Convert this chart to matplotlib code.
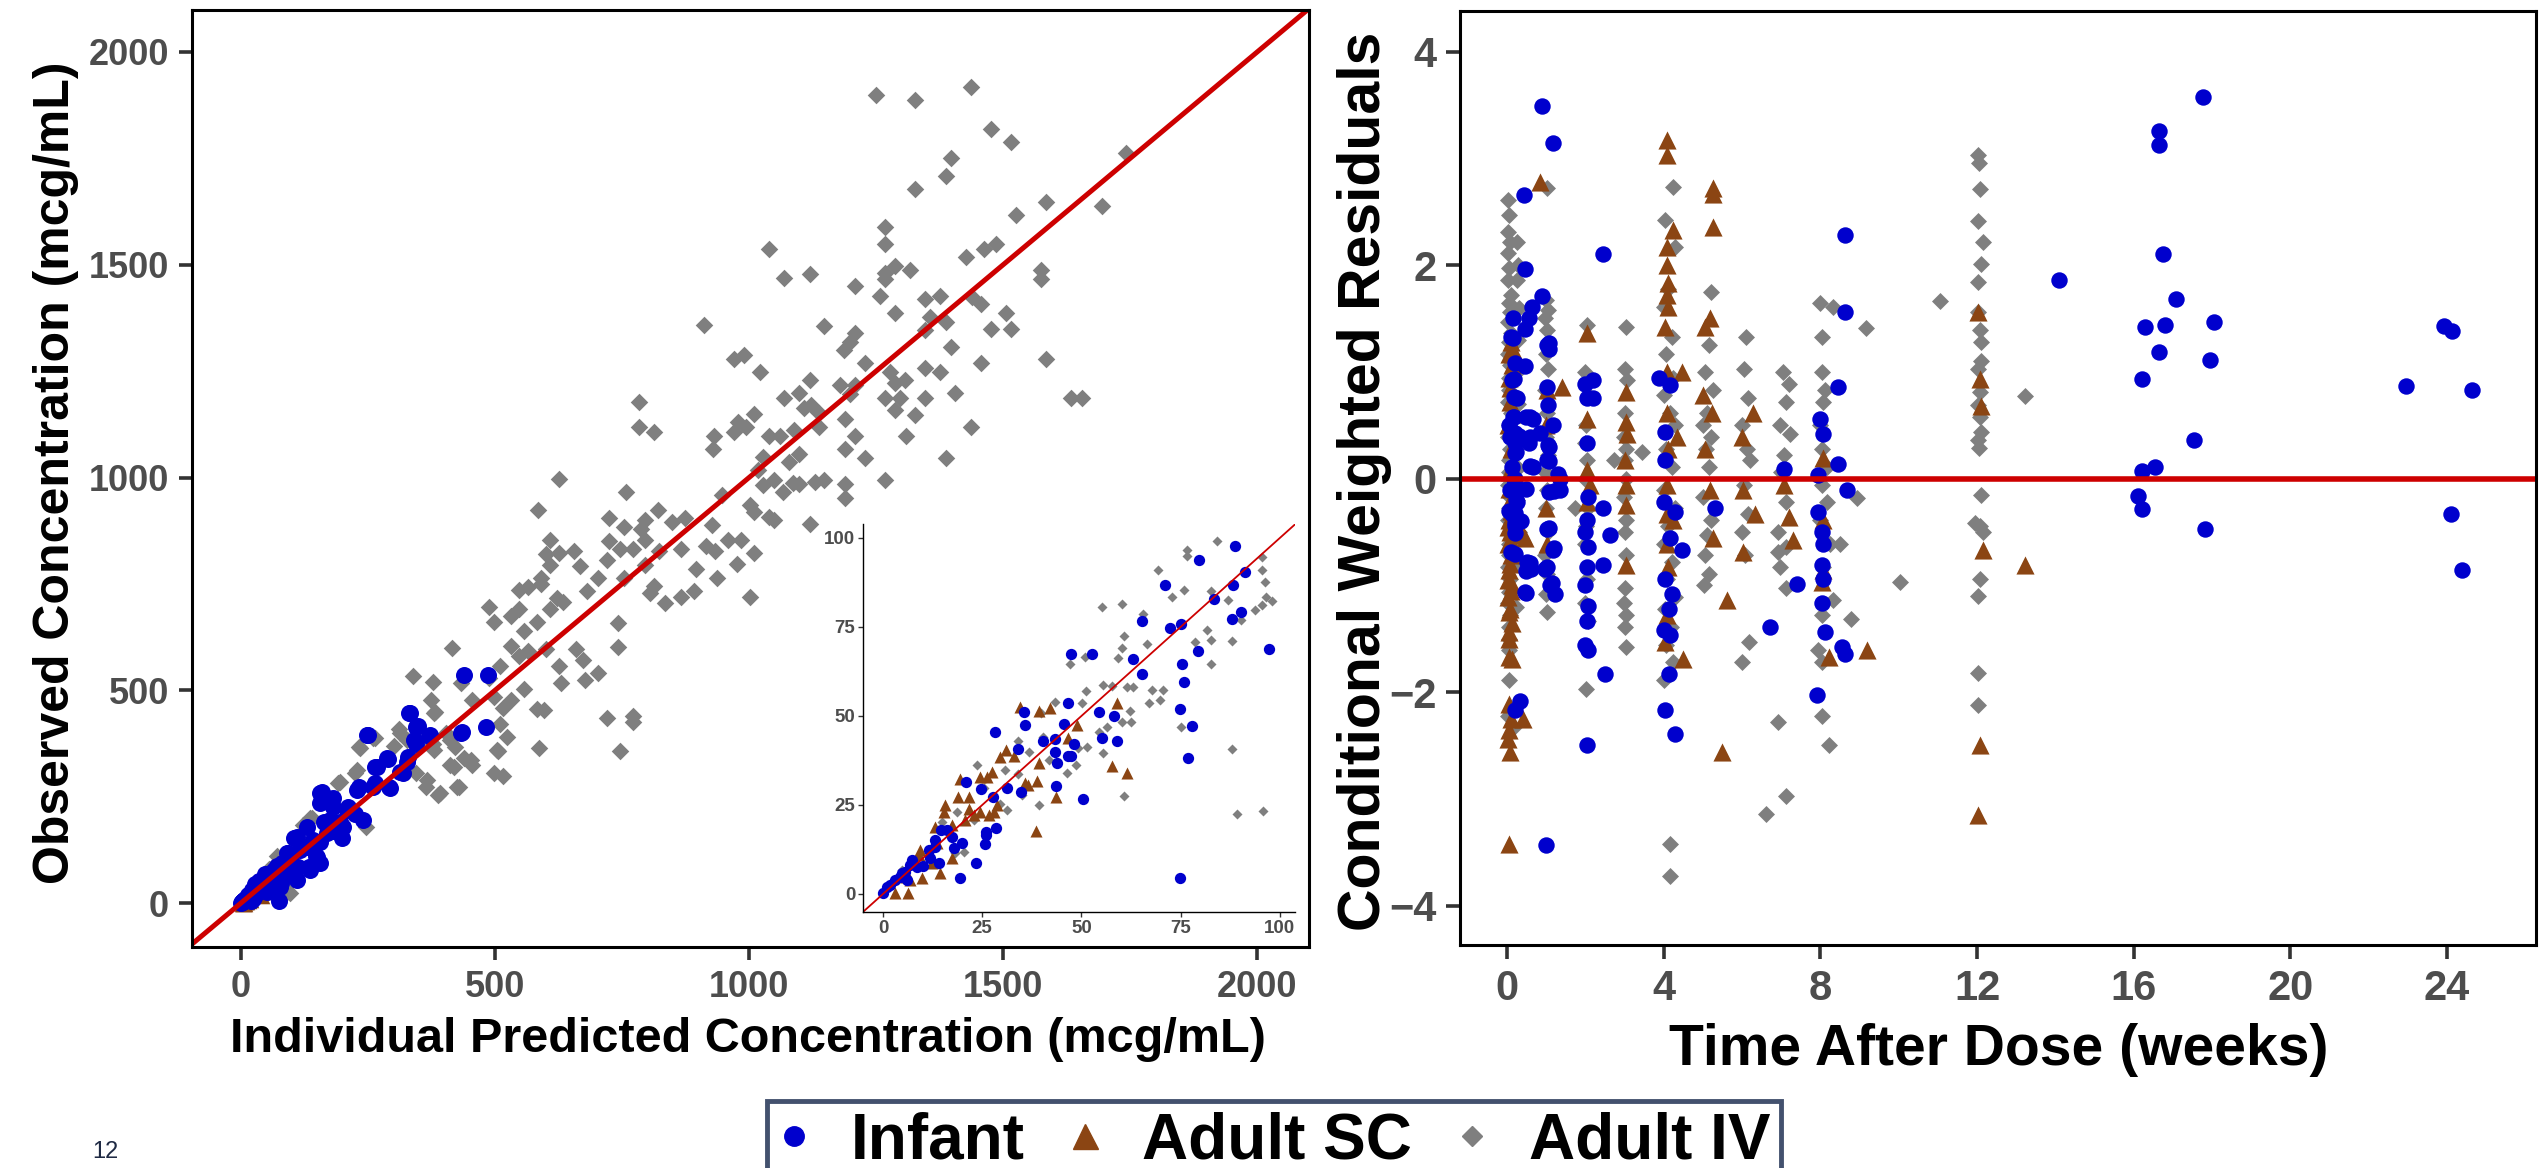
import numpy as np
import matplotlib
matplotlib.use("Agg")
import matplotlib.pyplot as plt
from matplotlib.lines import Line2D

plt.rcParams['font.family'] = ['Liberation Sans', 'DejaVu Sans']

BLUE = '#0000CD'
BROWN = '#8B4513'
GREY = '#7F7F7F'
RED = '#CD0000'
TICKCOL = '#4D4D4D'

# ---------------- observed vs individual predicted (mcg/mL) ----------------
# Adult IV (pred, obs)
iv_pred_obs = [
    (1249, 1899), (1327, 1887), (1436, 1918), (1476, 1818), (1515, 1789), (1397, 1750),
    (1387, 1709), (1327, 1678), (1741, 1762), (1585, 1648), (1694, 1639), (1525, 1618),
    (1268, 1588), (1268, 1549), (1040, 1537), (1427, 1519), (1462, 1538), (1485, 1549),
    (1288, 1498), (1317, 1488), (1268, 1480), (1268, 1466), (1119, 1478), (1068, 1468),
    (1208, 1449), (1575, 1488), (1575, 1466), (1257, 1427), (1346, 1419), (1376, 1427),
    (1438, 1425), (1456, 1408), (1287, 1387), (1505, 1387), (911, 1358), (1148, 1357),
    (1357, 1378), (1387, 1366), (1346, 1346), (1476, 1348), (1515, 1348), (1208, 1339),
    (1198, 1319), (1187, 1300), (1397, 1307), (970, 1278), (990, 1287), (1021, 1247),
    (1228, 1269), (1585, 1278), (1456, 1269), (1277, 1248), (1346, 1257), (1376, 1247),
    (1119, 1228), (1179, 1218), (1208, 1218), (1099, 1199), (1068, 1188), (1198, 1196),
    (1288, 1221), (1306, 1228), (1268, 1188), (1298, 1188), (1346, 1188), (1406, 1198),
    (1634, 1188), (1655, 1188), (1109, 1163), (1122, 1170), (1138, 1151), (1287, 1159),
    (1327, 1147), (1009, 1149), (978, 1131), (994, 1119), (970, 1107), (812, 1107),
    (931, 1097), (929, 1068), (1040, 1097), (1060, 1097), (1089, 1111), (1138, 1118),
    (1189, 1137), (1208, 1097), (1308, 1097), (1436, 1118), (1189, 1068), (1228, 1047),
    (1387, 1047), (1099, 1055), (1079, 1037), (1027, 1049), (1017, 1018), (1268, 994),
    (1028, 982), (1049, 994), (1067, 966), (1087, 986), (1099, 985), (1129, 990),
    (1148, 995), (1189, 985), (1189, 951), (947, 959), (1001, 935), (1009, 919),
    (820, 923), (848, 896), (873, 904), (927, 888), (1040, 906), (1050, 900), (1119, 891),
    (784, 1178), (784, 1118), (626, 997), (585, 924), (758, 966), (1001, 718), (895, 785),
    (891, 734), (865, 718), (835, 706), (805, 729), (937, 763), (916, 840), (933, 828),
    (959, 852), (976, 797), (984, 852), (1010, 823), (796, 852), (822, 828), (796, 794),
    (813, 746), (865, 832), (724, 905), (754, 884), (788, 880), (796, 901), (724, 850),
    (745, 832), (771, 832), (754, 763), (741, 657), (741, 601), (703, 763), (720, 806),
    (681, 734), (668, 791), (655, 828), (608, 852), (600, 820), (608, 794), (625, 823),
    (591, 763), (591, 750), (548, 736), (565, 742), (621, 717), (633, 708), (608, 691),
    (583, 661), (557, 640), (548, 691), (531, 674), (489, 695), (498, 661), (565, 593),
    (531, 605), (548, 580), (600, 597), (625, 558), (629, 516), (677, 524), (703, 541),
    (660, 597), (673, 572), (510, 558), (557, 503), (531, 477), (583, 456), (596, 453),
    (720, 435), (771, 439), (771, 426), (745, 358), (587, 365), (416, 599), (339, 533),
    (378, 520), (374, 477), (382, 450), (433, 516), (455, 477), (489, 528), (498, 485),
    (515, 459), (510, 420), (523, 389), (506, 358), (515, 298), (455, 324), (438, 341),
    (421, 366), (412, 324), (429, 272), (387, 255), (365, 272), (344, 306), (378, 374),
    (404, 400), (327, 383), (310, 409), (301, 370), (263, 387), (233, 366), (224, 306),
    (245, 178), (190, 281), (139, 200), (122, 183), (71, 110),
    (234, 364), (228, 313), (195, 285), (136, 199), (260, 387), (313, 399), (379, 446),
    (366, 289), (392, 258), (425, 273), (379, 360), (419, 320), (452, 336), (412, 383),
    (503, 360), (497, 305),
    (84.2, 99.2), (76.5, 96.7), (76.5, 94.9), (95.4, 94.7), (95.4, 90.9), (96.2, 87.7),
    (69.4, 90.9), (75.9, 85.5), (72.7, 83.3), (82.6, 85.1), (87.0, 82.5), (97.9, 82.2),
    (96.6, 83.4), (93.7, 79.7), (95.4, 81.1), (90.1, 76.9), (55.1, 80.6), (60.2, 81.3),
    (65.4, 78.6), (60.7, 72.4), (60.2, 69.2), (59.1, 66.4), (66.4, 70.3), (78.6, 70.8),
    (82.6, 71.3), (81.5, 74.1), (82.6, 64.5), (88.0, 71.1), (47.0, 64.5), (50.8, 66.6),
    (51.1, 57.1), (55.5, 58.7), (57.6, 58.4), (61.4, 58.2), (63.1, 58.2), (67.7, 57.3),
    (70.6, 57.3), (69.8, 54.4), (66.9, 53.5), (62.2, 51.4), (62.4, 48.4), (60.2, 48.2),
    (56.5, 47.0), (54.3, 45.6), (50.1, 53.5), (43.4, 54.0), (39.8, 50.7), (40.4, 44.2),
    (41.7, 37.6), (39.2, 25.0), (36.7, 39.9), (34.1, 43.0), (51.3, 41.3), (49.1, 41.1),
    (48.7, 36.2), (46.3, 34.1), (55.4, 39.7), (60.6, 27.6), (75.1, 46.8), (89.1, 22.5),
    (95.8, 23.4), (88.0, 40.6), (23.8, 36.2), (25.5, 29.7), (30.8, 34.8), (34.1, 33.7),
    (29.5, 25.4), (31.2, 23.6), (35.0, 27.8), (22.8, 20.8), (18.6, 23.1), (14.8, 20.3),
    (18.2, 11.4), (20.3, 11.9), (4.8, 6.7), (7.7, 8.6),
]

# Adult SC (pred, obs)
sc_pred_obs = [
    (34.4, 52.4), (39.2, 51.4), (42.1, 52.1), (58.9, 53.7), (48.8, 47.4), (46.7, 43.7),
    (57.6, 35.9), (61.4, 33.9), (43.6, 27.3), (38.6, 17.7), (39.2, 36.7), (36.6, 30.6),
    (35.8, 31.2), (38.8, 31.8), (32.9, 38.7), (31.0, 40.4), (29.4, 38.5), (27.4, 34.3),
    (26.2, 32.9), (24.5, 32.9), (19.5, 32.2), (21.6, 27.3), (19.0, 27.3), (15.7, 25.0),
    (15.3, 23.1), (21.6, 24.0), (22.8, 22.2), (20.7, 20.8), (24.5, 23.1), (26.6, 22.2),
    (27.9, 23.1), (28.7, 25.0), (13.2, 18.9), (17.4, 19.4), (13.6, 14.2), (12.3, 8.6),
    (17.4, 10.0), (14.3, 6.0), (9.4, 12.3), (9.0, 10.9), (9.8, 4.4), (6.9, 3.9),
    (6.2, 0.4), (3.1, 0.4), (5.9, 4.9),
]

# Infant (pred, obs)
inf_pred_obs = [
    (439, 537), (487, 537), (333, 447), (344, 413), (250, 395), (289, 338), (267, 319),
    (433, 400), (482, 413), (369, 393), (344, 374), (327, 331), (318, 306), (292, 272),
    (263, 281), (233, 272), (156, 259), (156, 234), (181, 247), (211, 226), (241, 196),
    (224, 209), (194, 191), (164, 191), (181, 170), (198, 152), (156, 144), (109, 152),
    (130, 131), (147, 110), (156, 93), (113, 84), (134, 84), (92, 118), (130, 178),
    (105, 152),
    (331, 446), (349, 416), (247, 395), (434, 403), (341, 383), (372, 395), (287, 340),
    (264, 320), (313, 309), (293, 270), (329, 344), (159, 262), (182, 226), (228, 266),
    (260, 273), (208, 219), (201, 179), (175, 195), (169, 164), (142, 148), (110, 156),
    (116, 125), (149, 109), (136, 78), (96, 109), (110, 54), (90, 117),
    (88.7, 97.8), (79.7, 93.7), (91.2, 90.5), (71.1, 86.7), (88.3, 86.7), (83.5, 82.7),
    (90.1, 79.2), (87.8, 77.2), (65.2, 76.6), (72.3, 74.8), (75.1, 75.8), (97.2, 68.9),
    (47.4, 67.5), (52.6, 67.3), (79.3, 68.2), (62.9, 66.1), (65.3, 61.9), (75.4, 64.5),
    (75.9, 59.4), (46.7, 53.7), (54.5, 51.0), (58.3, 50.0), (74.7, 51.9), (35.4, 51.0),
    (35.7, 47.4), (45.5, 47.6), (77.8, 47.1), (28.3, 45.6), (40.4, 42.9), (43.4, 43.4),
    (55.1, 43.7), (58.9, 43.0), (48.2, 42.0), (34.0, 40.6), (43.4, 39.8), (46.7, 38.8),
    (47.4, 38.8), (76.9, 38.1), (43.8, 36.7), (43.6, 30.4), (50.5, 26.7), (20.9, 31.5),
    (24.7, 29.5), (31.2, 29.9), (34.8, 28.7), (27.6, 27.3), (28.4, 18.6), (25.9, 17.5),
    (25.9, 16.6), (25.6, 13.9), (23.4, 8.6), (74.8, 4.4), (19.3, 4.6), (19.9, 14.2),
    (17.8, 13.0), (17.4, 16.1), (16.1, 18.1), (14.6, 18.0), (13.0, 15.2), (13.0, 13.3),
    (11.5, 12.3), (11.9, 10.0), (14.0, 8.6), (10.2, 7.9), (8.6, 7.7), (7.3, 9.5),
    (6.9, 8.1), (5.6, 6.3), (4.4, 4.9), (3.1, 3.9), (1.8, 2.5), (1.0, 2.1), (0.0, 0.2),
    (6.0, 3.9), (4.8, 5.8),
]

# ---------------- CWRES vs time after dose (weeks) ----------------
iv_time_res = [
    (0.02, 2.61), (0.05, 2.47), (0.03, 2.31), (0.08, 2.22), (0.02, 2.11), (0.06, 1.97),
    (0.03, 1.86), (0.10, 1.72), (0.04, 1.64), (0.07, 1.56), (0.02, 1.47), (0.09, 1.36),
    (0.05, 1.28), (0.03, 1.17), (0.08, 1.06), (0.04, 0.94), (0.06, 0.83), (0.02, 0.72),
    (0.09, 0.61), (0.05, 0.50), (0.03, 0.39), (0.07, 0.28), (0.04, 0.17), (0.06, 0.06),
    (0.02, -0.06), (0.08, -0.17), (0.05, -0.28), (0.03, -0.39), (0.07, -0.50), (0.04, -0.61),
    (0.06, -0.72), (0.02, -0.83), (0.08, -0.94), (0.05, -1.06), (0.03, -1.17), (0.07, -1.28),
    (0.04, -1.39), (0.06, -1.50), (0.05, -1.61), (0.04, -1.89), (0.03, -2.22),
    (0.26, 2.22), (0.28, 2.00), (0.25, 1.86), (0.30, 1.60), (0.27, 1.30), (0.25, 1.00),
    (0.29, 0.70), (0.26, 0.40), (0.28, 0.10), (0.25, -0.20), (0.30, -0.50), (0.27, -0.80),
    (0.22, -1.20), (0.18, -2.33),
    (1.02, 2.72), (1.00, 1.67), (1.05, 1.58), (0.98, 1.50), (1.02, 1.39), (1.00, 1.17),
    (1.04, 1.03), (0.98, 0.83), (1.02, 0.61), (1.00, 0.39), (1.05, 0.22), (0.97, 0.06),
    (1.02, -0.11), (1.00, -0.28), (1.04, -0.50), (0.98, -0.72), (1.02, -0.89), (1.00, -1.08),
    (1.02, -1.25),
    (2.04, 1.44), (2.00, 1.00), (2.06, 0.78), (2.02, 0.50), (1.98, 0.33), (2.04, 0.17),
    (2.00, 0.00), (2.06, -0.28), (2.02, -0.44), (1.98, -0.61), (2.04, -0.94), (2.00, -1.17),
    (2.06, -1.33), (2.02, -1.97), (1.74, -0.28), (2.73, 0.17),
    (3.03, 1.42), (3.00, 1.03), (3.06, 0.92), (3.02, 0.61), (2.98, 0.39), (3.05, 0.28),
    (3.00, 0.17), (3.04, 0.00), (2.99, -0.17), (3.03, -0.39), (3.00, -0.50), (3.05, -0.72),
    (3.02, -1.03), (2.98, -1.17), (3.04, -1.28), (3.00, -1.39), (3.03, -1.58), (3.45, 0.25),
    (4.24, 2.73), (4.04, 2.42), (4.30, 2.17), (4.10, 1.78), (4.02, 1.61), (4.20, 1.33),
    (4.06, 1.17), (4.25, 0.94), (4.00, 0.78), (4.15, 0.61), (4.30, 0.50), (4.05, 0.28),
    (4.20, 0.11), (4.02, -0.11), (4.28, -0.28), (4.10, -0.44), (4.00, -0.61), (4.22, -0.78),
    (4.08, -0.94), (4.30, -1.11), (4.04, -1.22), (4.18, -1.39), (4.06, -1.56), (4.24, -1.72),
    (4.02, -1.89), (4.16, -3.42), (4.16, -3.72),
    (5.20, 1.75), (5.15, 1.25), (5.05, 1.00), (5.25, 0.83), (5.10, 0.61), (5.00, 0.50),
    (5.22, 0.39), (5.08, 0.28), (5.15, 0.11), (5.00, -0.17), (5.20, -0.39), (5.10, -0.53),
    (5.05, -0.72), (5.15, -0.89), (5.02, -1.00),
    (6.10, 1.33), (6.05, 1.03), (6.15, 0.75), (6.00, 0.50), (6.12, 0.28), (6.20, 0.17),
    (6.05, -0.06), (6.15, -0.33), (6.00, -0.50), (6.08, -0.72), (6.17, -1.53), (6.00, -1.72),
    (6.62, -3.14), (7.13, -2.97), (6.91, -2.28),
    (7.04, 1.00), (7.21, 0.89), (7.13, 0.72), (6.96, 0.50), (7.23, 0.42), (7.06, 0.22),
    (7.00, 0.06), (7.13, -0.22), (6.91, -0.50), (7.13, -0.64), (6.96, -0.83), (7.13, -1.03),
    (6.91, -0.69),
    (7.99, 1.64), (8.04, 1.33), (8.04, 1.00), (8.12, 0.83), (8.08, 0.72), (7.99, 0.50),
    (8.04, 0.28), (8.16, 0.11), (8.04, -0.06), (8.16, -0.22), (7.99, -0.39), (8.25, -0.61),
    (8.08, -0.83), (8.33, -1.14), (8.04, -1.28), (7.95, -1.61), (8.04, -1.72), (8.04, -2.22),
    (8.21, -2.50), (8.33, 1.61), (8.50, -0.61),
    (9.16, 1.41), (8.93, -0.18), (8.79, -1.32), (10.04, -0.97), (11.06, 1.66),
    (12.03, 3.03), (12.05, 2.96), (12.07, 2.71), (12.03, 2.41), (12.15, 2.22), (12.10, 2.01),
    (12.03, 1.84), (12.03, 1.56), (12.07, 1.39), (12.10, 1.28), (12.10, 1.10), (12.03, 1.03),
    (12.07, 0.81), (12.03, 0.69), (12.07, 0.58), (12.10, 0.44), (12.03, 0.36), (12.05, 0.29),
    (12.10, -0.15), (11.95, -0.42), (12.07, -0.44), (12.15, -0.50), (12.07, -0.94),
    (12.03, -1.10), (12.03, -1.82), (12.03, -2.12), (13.22, 0.77),
]

sc_time_res = [
    (0.10, 1.28), (0.05, 1.17), (0.12, 1.06), (0.04, 0.94), (0.08, 0.72), (0.03, 0.50),
    (0.10, 0.28), (0.05, 0.06), (0.12, -0.17), (0.04, -0.39), (0.08, -0.50), (0.02, -0.61),
    (0.10, -0.72), (0.05, -0.86), (0.12, -1.00), (0.03, -1.11), (0.08, -1.22), (0.05, -1.44),
    (0.06, -1.67), (0.12, -1.69), (0.04, -2.11), (0.10, -2.25), (0.06, -2.36), (0.03, -2.44),
    (0.08, -2.56), (0.05, -3.42), (0.40, -0.53), (0.45, -0.56), (0.42, -2.25),
    (0.05, -0.10), (0.10, -0.30), (0.03, -0.45), (0.12, -0.60), (0.08, -0.80), (0.02, -0.95),
    (0.10, -1.05), (0.06, -1.25), (0.12, -1.35), (0.04, -1.50), (0.15, 1.20), (0.08, 0.85),
    (0.12, 0.60),
    (0.85, 2.78), (1.02, 0.83), (1.00, 0.50), (1.04, 0.22), (1.00, -0.28), (1.02, -0.61),
    (1.40, 0.86),
    (2.04, 1.36), (2.04, 0.56), (2.04, 0.08), (2.04, -0.22), (2.12, -0.06),
    (3.03, 0.81), (3.03, 0.53), (3.06, 0.42), (3.00, 0.17), (3.03, -0.06), (3.03, -0.25),
    (3.03, -0.81),
    (4.08, 3.17), (4.08, 3.03), (4.25, 2.33), (4.08, 2.17), (4.08, 2.00), (4.12, 1.83),
    (4.08, 1.72), (4.12, 1.61), (4.04, 1.42), (4.08, 1.00), (4.46, 1.00), (4.08, 0.61),
    (4.12, 0.28), (4.08, -0.06), (4.08, -0.33), (4.08, -0.61), (4.12, -0.83), (4.08, -1.28),
    (4.04, -1.53), (4.50, -1.69), (4.25, -0.39), (4.33, 0.39),
    (5.27, 2.72), (5.27, 2.67), (5.27, 2.36), (5.18, 1.50), (5.05, 1.42), (5.01, 0.78),
    (5.23, 0.61), (5.05, 0.28), (5.18, -0.11), (5.27, -0.56), (5.48, -2.56),
    (6.29, 0.61), (5.99, 0.39), (6.03, -0.11), (6.33, -0.33), (6.03, -0.69), (5.61, -1.14),
    (7.07, -0.06), (7.20, -0.36), (7.31, -0.58),
    (8.08, 0.19), (8.08, -0.39), (8.08, -0.86), (8.04, -0.97), (8.21, -1.67),
    (9.18, -1.61), (12.03, 1.56), (12.07, 0.93), (12.10, 0.68), (12.16, -0.67),
    (12.07, -2.50), (12.03, -3.15), (13.22, -0.81),
]

inf_time_res = [
    (0.10, 1.33), (0.20, 1.08), (0.12, 0.92), (0.25, 0.75), (0.15, 0.58), (0.08, 0.39),
    (0.22, 0.25), (0.12, 0.11), (0.18, 0.00), (0.08, -0.11), (0.25, -0.22), (0.12, -0.33),
    (0.20, -0.44), (0.10, -0.69), (0.15, 1.50), (0.05, 0.50), (0.05, -0.30), (0.30, 0.40),
    (0.35, -0.40), (0.43, 2.66), (0.46, 1.96), (0.63, 1.61), (0.55, 1.50), (0.45, 1.40),
    (0.45, 1.05), (0.67, 0.56), (0.59, 0.39), (0.67, 0.11), (0.50, -0.78), (0.46, -1.06),
    (0.60, -0.85), (0.33, -2.08), (0.20, -2.17),
    (0.15, 1.32), (0.17, 0.93), (0.18, 0.76), (0.17, 0.58), (0.48, 0.58), (0.59, 0.58),
    (0.20, 0.43), (0.20, 0.33), (0.55, 0.33), (0.20, 0.24), (0.59, 0.12), (0.20, 0.00),
    (0.23, -0.10), (0.48, -0.10), (0.23, -0.20), (0.20, -0.32), (0.20, -0.42), (0.20, -0.51),
    (0.20, -0.71), (0.59, -0.79), (0.48, -0.87), (0.48, -1.07),
    (0.90, 1.71), (0.90, 3.49), (1.18, 3.14), (1.01, 1.25), (1.03, 0.86), (1.04, 0.69),
    (1.18, 0.50), (1.04, 0.31), (1.01, 0.17), (1.35, 0.00), (1.35, -0.11), (1.01, -0.47),
    (1.18, -0.67), (1.01, -0.83), (1.10, -1.00), (1.23, -1.08), (1.00, -3.43),
    (1.06, 1.27), (1.06, 1.21), (0.84, 0.43), (1.06, 0.30), (1.06, 0.16), (1.31, 0.04),
    (1.19, -0.12), (1.06, -0.13), (1.06, -0.46), (1.19, -0.65), (0.98, -0.85), (1.15, -0.98),
    (1.99, 0.89), (2.04, 0.75), (2.04, 0.33), (2.08, -0.17), (2.04, -0.39), (2.00, -0.50),
    (2.08, -0.64), (2.04, -0.83), (2.00, -1.00), (2.08, -1.19), (2.04, -1.33), (2.00, -1.56),
    (2.08, -1.61), (2.04, -2.50), (2.20, 0.92), (2.20, 0.75), (2.46, 2.10), (2.46, -0.28),
    (2.63, -0.53), (2.46, -0.81), (2.50, -1.83),
    (3.88, 0.94), (4.17, 0.88), (4.04, 0.44), (4.04, 0.17), (4.00, -0.22), (4.30, -0.31),
    (4.17, -0.56), (4.47, -0.67), (4.04, -0.94), (4.21, -1.08), (4.13, -1.22), (4.00, -1.42),
    (4.17, -1.47), (4.13, -1.83), (4.03, -2.17), (4.28, -2.39),
    (5.31, -0.28), (6.72, -1.39), (7.06, 0.09), (7.41, -0.99),
    (8.00, 0.56), (8.08, 0.42), (7.95, 0.03), (7.95, -0.31), (8.04, -0.50), (8.08, -0.61),
    (8.04, -0.81), (8.08, -0.94), (8.04, -1.17), (8.12, -1.44), (7.91, -2.03), (8.46, 0.86),
    (8.46, 0.14), (8.63, 2.28), (8.63, 1.56), (8.68, -0.11), (8.63, -1.64), (8.56, -1.58),
    (14.08, 1.86), (17.78, 3.57), (16.64, 3.26), (16.64, 3.12), (16.75, 2.10), (17.09, 1.68),
    (16.30, 1.42), (16.81, 1.44), (18.06, 1.47), (16.64, 1.19), (17.95, 1.11), (16.22, 0.93),
    (17.53, 0.36), (16.22, 0.07), (16.54, 0.11), (16.10, -0.16), (16.22, -0.29), (17.81, -0.47),
    (22.96, 0.87), (23.92, 1.43), (24.12, 1.38), (24.64, 0.83), (24.10, -0.33), (24.38, -0.86),
]

conc_ticks = [0, 500, 1000, 1500, 2000]
inset_ticks = [0, 25, 50, 75, 100]
time_ticks = [0, 4, 8, 12, 16, 20, 24]
res_ticks = [-4, -2, 0, 2, 4]
group_names = ['Infant', 'Adult SC', 'Adult IV']


def xy(pairs):
    a = np.array(pairs, dtype=float)
    return a[:, 0], a[:, 1]


def style_axis(ax, lab_size, tick_len, pad, spine_w=2.2, tick_w=2.6):
    for lab in ax.get_xticklabels() + ax.get_yticklabels():
        lab.set_fontweight('bold')
    ax.tick_params(axis='both', length=tick_len, width=tick_w, color='#333333',
                   labelcolor=TICKCOL, labelsize=lab_size, pad=pad)
    for sp in ax.spines.values():
        sp.set_linewidth(spine_w)
        sp.set_color('black')


fig = plt.figure(figsize=(25.39, 11.68), dpi=100)

# ---- left: observed vs predicted ----
ax1 = fig.add_axes([0.07562, 0.18921, 0.43993, 0.80223])
series = [(iv_pred_obs, GREY, 'D'), (sc_pred_obs, BROWN, '^'), (inf_pred_obs, BLUE, 'o')]
main_sizes = [80, 160, 150]
for (pairs, col, mk), s in zip(series, main_sizes):
    x, y = xy(pairs)
    ax1.scatter(x, y, s=s, c=col, marker=mk, linewidths=0)
ax1.axline((0, 0), slope=1, color=RED, lw=3.6)
ax1.set_xlim(-96.5, 2102)
ax1.set_ylim(-103.4, 2098.7)
ax1.set_xticks(conc_ticks)
ax1.set_yticks(conc_ticks)
style_axis(ax1, 26, 9.5, 7)
ax1.set_xlabel('Individual Predicted Concentration (mcg/mL)', fontsize=35, fontweight='bold', va='baseline')
ax1.set_ylabel('Observed Concentration (mcg/mL)', fontsize=36, fontweight='bold', va='baseline')
ax1.xaxis.set_label_coords(0.4978, -0.1121)
ax1.yaxis.set_label_coords(-0.1101, 0.5059)

# ---- inset: zoom on 0-100 ----
ax3 = fig.add_axes([0.33990, 0.21918, 0.17015, 0.33219])
inset_sizes = [26, 75, 66]
for (pairs, col, mk), s in zip(series, inset_sizes):
    x, y = xy(pairs)
    ax3.scatter(x, y, s=s, c=col, marker=mk, linewidths=0)
ax3.axline((0, 0), slope=1, color=RED, lw=1.3)
ax3.set_xlim(-5.04, 103.8)
ax3.set_ylim(-5.06, 103.9)
ax3.set_xticks(inset_ticks)
ax3.set_yticks(inset_ticks)
ax3.spines['top'].set_visible(False)
ax3.spines['right'].set_visible(False)
style_axis(ax3, 13.5, 3.5, 2, spine_w=1.0, tick_w=1.0)

# ---- right: CWRES vs time ----
ax2 = fig.add_axes([0.57503, 0.19092, 0.42379, 0.79966])
series2 = [(iv_time_res, GREY, 'D', 75), (sc_time_res, BROWN, '^', 170), (inf_time_res, BLUE, 'o', 140)]
for pairs, col, mk, s in series2:
    x, y = xy(pairs)
    ax2.scatter(x, y, s=s, c=col, marker=mk, linewidths=0)
ax2.axhline(0, color=RED, lw=4)
ax2.set_xlim(-1.2, 26.27)
ax2.set_ylim(-4.37, 4.38)
ax2.set_xticks(time_ticks)
ax2.set_yticks(res_ticks)
style_axis(ax2, 30, 10, 7)
ax2.set_xlabel('Time After Dose (weeks)', fontsize=41, fontweight='bold', va='baseline')
ax2.set_ylabel('Conditional Weighted Residuals', fontsize=42.5, fontweight='bold', va='baseline')
ax2.xaxis.set_label_coords(0.501, -0.1285)
ax2.yaxis.set_label_coords(-0.0743, 0.4968)

# ---- shared legend ----
handles = [
    Line2D([], [], ls='', marker='o', color=BLUE, markersize=14),
    Line2D([], [], ls='', marker='^', color=BROWN, markersize=18),
    Line2D([], [], ls='', marker='D', color=GREY, markersize=10),
]
leg = fig.legend(handles, group_names, loc='upper center', bbox_to_anchor=(0.5018, 0.0574),
                 ncol=3, prop={'weight': 'bold', 'size': 46}, frameon=True, fancybox=False,
                 edgecolor='#14264a', borderpad=0.17, handlelength=0.5, handletextpad=0.64,
                 columnspacing=0.69, borderaxespad=0)
leg.get_frame().set_linewidth(3.5)

fig.text(0.0362, 0.0086, '12', fontsize=17, color='#1F2A44')

fig.savefig('out.png', dpi=100)
